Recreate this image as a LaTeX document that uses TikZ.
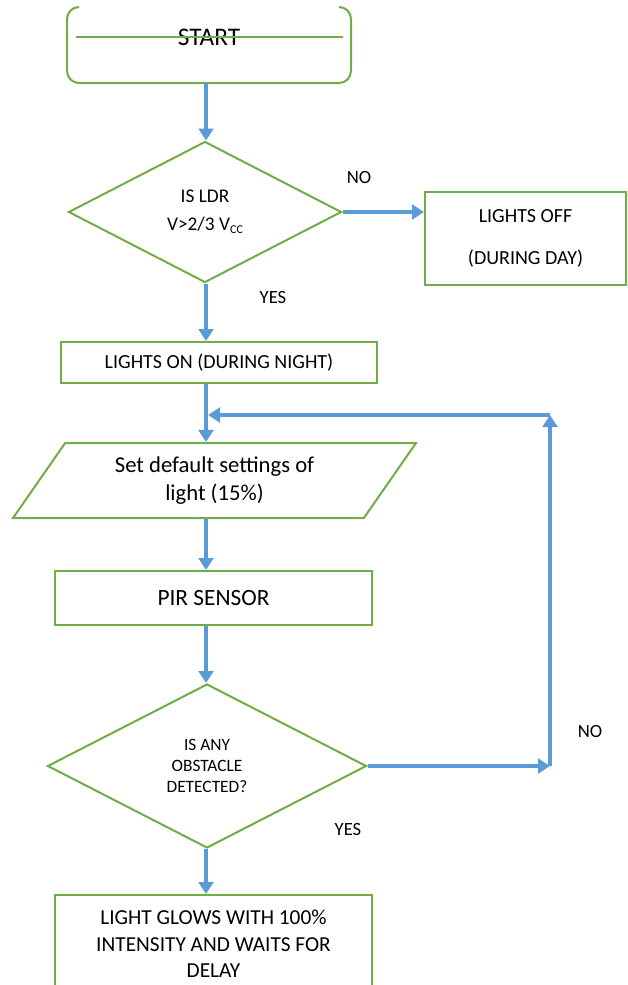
\documentclass[tikz,border=0pt]{standalone}
\usepackage{fontspec}
\setmainfont{Carlito}
\usetikzlibrary{arrows.meta,shapes.geometric}

\definecolor{boxgreen}{RGB}{112,173,71}
\definecolor{flowblue}{RGB}{91,155,213}

\begin{document}
\begin{tikzpicture}[x=0.75pt,y=-0.75pt,
	box/.style={draw=boxgreen,line width=1.5pt,align=center,inner sep=0pt},
	flow/.style={draw=flowblue,line width=3pt,-{Triangle[width=11pt,length=9pt]}},
	lbl/.style={font=\fontsize{14}{17}\selectfont}]
	\clip (0,0) rectangle (628,985);
	\coordinate (col) at (206,0);
	\node[box,draw=none,minimum width=211.5pt,minimum height=55.5pt,
		font=\fontsize{19}{22}\selectfont] (start) at (209,45) {};
	\node[font=\fontsize{19}{22}\selectfont,inner sep=0pt] (starttxt) at (209,37) {START};
	\draw[boxgreen,line width=1.5pt,rounded corners=9pt]
		([xshift=9pt]start.north west) -- (start.north west) -- (start.south west)
		-- (start.south east) -- (start.north east) -- ([xshift=-9pt]start.north east);
	\draw[boxgreen,line width=1.5pt]
		([xshift=7pt]start.west |- starttxt) -- ([xshift=-6pt]start.east |- starttxt);
	\node[box,diamond,minimum width=204.75pt,minimum height=105.75pt,
		font=\fontsize{14.5}{21}\selectfont] (ldr) at (205,212)
		{IS LDR\\V>2/3 V{\fontsize{9}{9}\selectfont\raisebox{-2pt}{CC}}};
	\node[box,minimum width=150.75pt,minimum height=69.75pt,
		font=\fontsize{15}{18}\selectfont] (off) at (525.5,238.5)
		{LIGHTS OFF\\[14pt](DURING DAY)};
	\node[box,minimum width=237pt,minimum height=30.75pt,
		font=\fontsize{15}{18}\selectfont] (on) at (219,362.5)
		{LIGHTS ON (DURING NIGHT)};
	\node[box,trapezium,trapezium left angle=42.4,trapezium right angle=137.6,
		trapezium stretches body,minimum width=302.25pt,minimum height=56.25pt,
		font=\fontsize{17}{21}\selectfont] (deflt) at (214.5,480.5)
		{Set default settings of\\light (15\%)};
	\node[box,minimum width=237.75pt,minimum height=40.5pt,
		font=\fontsize{17.5}{21}\selectfont] (pir) at (213.5,598) {PIR SENSOR};
	\node[box,diamond,minimum width=239.25pt,minimum height=123pt,
		font=\fontsize{13}{16}\selectfont] (obst) at (207,766)
		{IS ANY\\OBSTACLE\\DETECTED?};
	\node[box,minimum width=237.75pt,minimum height=73.5pt,
		font=\fontsize{16}{20}\selectfont] (glow) at (213.5,944)
		{LIGHT GLOWS WITH 100\%\\INTENSITY AND WAITS FOR\\DELAY};
	% labels
	\node[lbl] (no1) at (359,178) {NO};
	\node[lbl] (yes1) at (273,298) {YES};
	\node[lbl] (no2) at (590,731) {NO};
	\node[lbl] (yes2) at (348,829) {YES};
	% connectors
	\coordinate (turn1) at (550,760);
	\coordinate (turn2) at (550,415);
	\draw[flow] (start.south -| col) -- (ldr.north -| col);
	\draw[flow] (ldr.east) -- (off.west |- ldr.east);
	\draw[flow] (ldr.south -| col) -- (on.north -| col);
	\draw[flow] (on.south -| col) -- (deflt.north -| col);
	\draw[flow] (deflt.south -| col) -- (pir.north -| col);
	\draw[flow] (pir.south -| col) -- (obst.north -| col);
	\draw[flow] (obst.east) -- (obst.east -| turn1);
	\draw[flow] (obst.east -| turn1) -- (turn2);
	\draw[flow,shorten >=1.5pt] (turn2) -- (turn2 -| col);
	\draw[flow] (obst.south -| col) -- (glow.north -| col);
\end{tikzpicture}
\end{document}
